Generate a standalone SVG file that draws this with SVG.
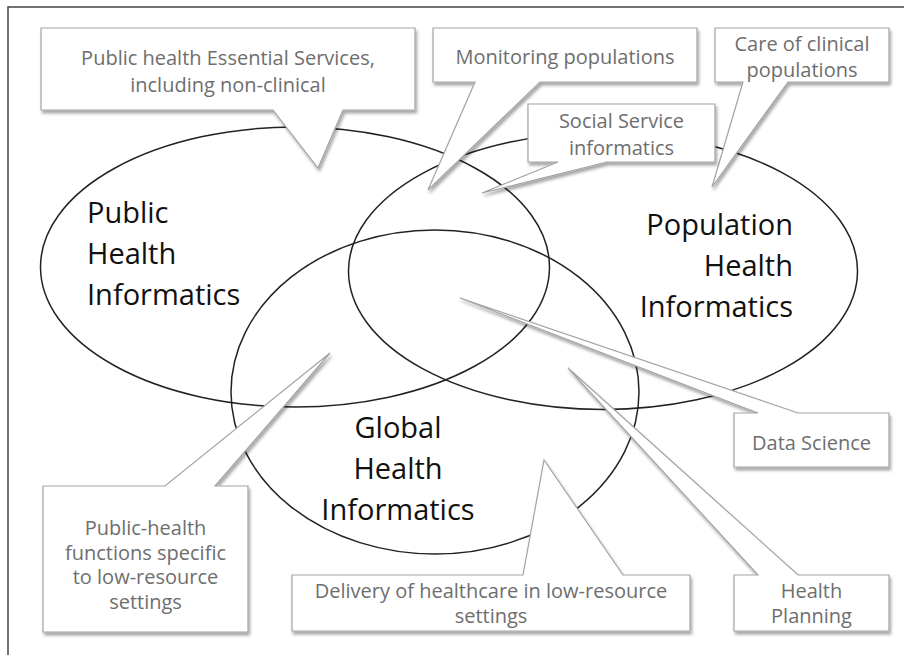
<svg xmlns="http://www.w3.org/2000/svg" width="904" height="655" viewBox="0 0 904 655">
  <style>
    .ell { fill: none; stroke: #222; stroke-width: 1.5; }
    .call { fill: #fff; stroke: #a3a3a3; stroke-width: 1.2; filter: url(#shadow); }
    .ct { font-family: "Open Sans", "Liberation Sans", sans-serif; font-size: 20px; fill: #6e6e6e; text-anchor: middle; }
    .big { font-family: "Open Sans", "Liberation Sans", sans-serif; font-size: 29px; fill: #111; }
    .frame { fill: none; stroke: #444; stroke-width: 1.5; }
  </style>
  <defs>
    <filter id="shadow" x="-10%" y="-10%" width="130%" height="130%">
      <feDropShadow dx="1.5" dy="3" stdDeviation="1.8" flood-color="#000" flood-opacity="0.35"/>
    </filter>
  </defs>
  <rect width="904" height="655" fill="#fff"/>
  <path class="frame" d="M8,655 V7 H904"/>

  <g id="public-health">
    <ellipse class="ell" cx="295" cy="267" rx="254.5" ry="140"/>
    <text class="big" x="87"><tspan x="87" y="223">Public</tspan><tspan x="87" y="264">Health</tspan><tspan x="87" y="305">Informatics</tspan></text>
  </g>
  <g id="population-health">
    <ellipse class="ell" cx="603" cy="271" rx="254.5" ry="138.5"/>
    <text class="big" text-anchor="end"><tspan x="793" y="235">Population</tspan><tspan x="793" y="276">Health</tspan><tspan x="793" y="317">Informatics</tspan></text>
  </g>
  <g id="global-health">
    <ellipse class="ell" cx="435" cy="392" rx="204" ry="162"/>
    <text class="big" text-anchor="middle"><tspan x="398" y="438">Global</tspan><tspan x="398" y="479">Health</tspan><tspan x="398" y="520">Informatics</tspan></text>
  </g>

  <g id="connectors">
    <g id="c-essential">
      <path class="call" d="M41,28 H415 V110 H343 L318,168 L273,110 H41 Z"/>
      <text class="ct"><tspan x="228" y="65">Public health Essential Services,</tspan><tspan x="228" y="92">including non-clinical</tspan></text>
    </g>
    <g id="c-monitoring">
      <path class="call" d="M433,28 H697 V82 H540 L428,190 L475,82 H433 Z"/>
      <text class="ct" x="565" y="64">Monitoring populations</text>
    </g>
    <g id="c-care">
      <path class="call" d="M715,28 H889 V82 H788 L712,187 L743,82 H715 Z"/>
      <text class="ct"><tspan x="802" y="51">Care of clinical</tspan><tspan x="802" y="77">populations</tspan></text>
    </g>
    <g id="c-social">
      <path class="call" d="M528,104 H715 V162 H607 L482,193 L558,162 H528 Z"/>
      <text class="ct"><tspan x="621.5" y="128">Social Service</tspan><tspan x="621.5" y="155">informatics</tspan></text>
    </g>
    <g id="c-lowres">
      <path class="call" d="M43,486 H165 L330,353 L215,486 H248 V632 H43 Z"/>
      <text class="ct"><tspan x="145.5" y="535">Public-health</tspan><tspan x="145.5" y="559.5">functions specific</tspan><tspan x="145.5" y="584">to low-resource</tspan><tspan x="145.5" y="608.5">settings</tspan></text>
    </g>
    <g id="c-delivery">
      <path class="call" d="M292,575 H523 L544,460 L623,575 H690 V631 H292 Z"/>
      <text class="ct"><tspan x="491" y="598">Delivery of healthcare in low-resource</tspan><tspan x="491" y="623">settings</tspan></text>
    </g>
    <g id="c-datascience">
      <path class="call" d="M734,413 H758 L460,298 L798,413 H889 V467 H734 Z"/>
      <text class="ct" x="811.5" y="450">Data Science</text>
    </g>
    <g id="c-planning">
      <path class="call" d="M734,575 H758 L568,368 L798,575 H889 V631 H734 Z"/>
      <text class="ct"><tspan x="811.5" y="598">Health</tspan><tspan x="811.5" y="623">Planning</tspan></text>
    </g>
  </g>
</svg>
